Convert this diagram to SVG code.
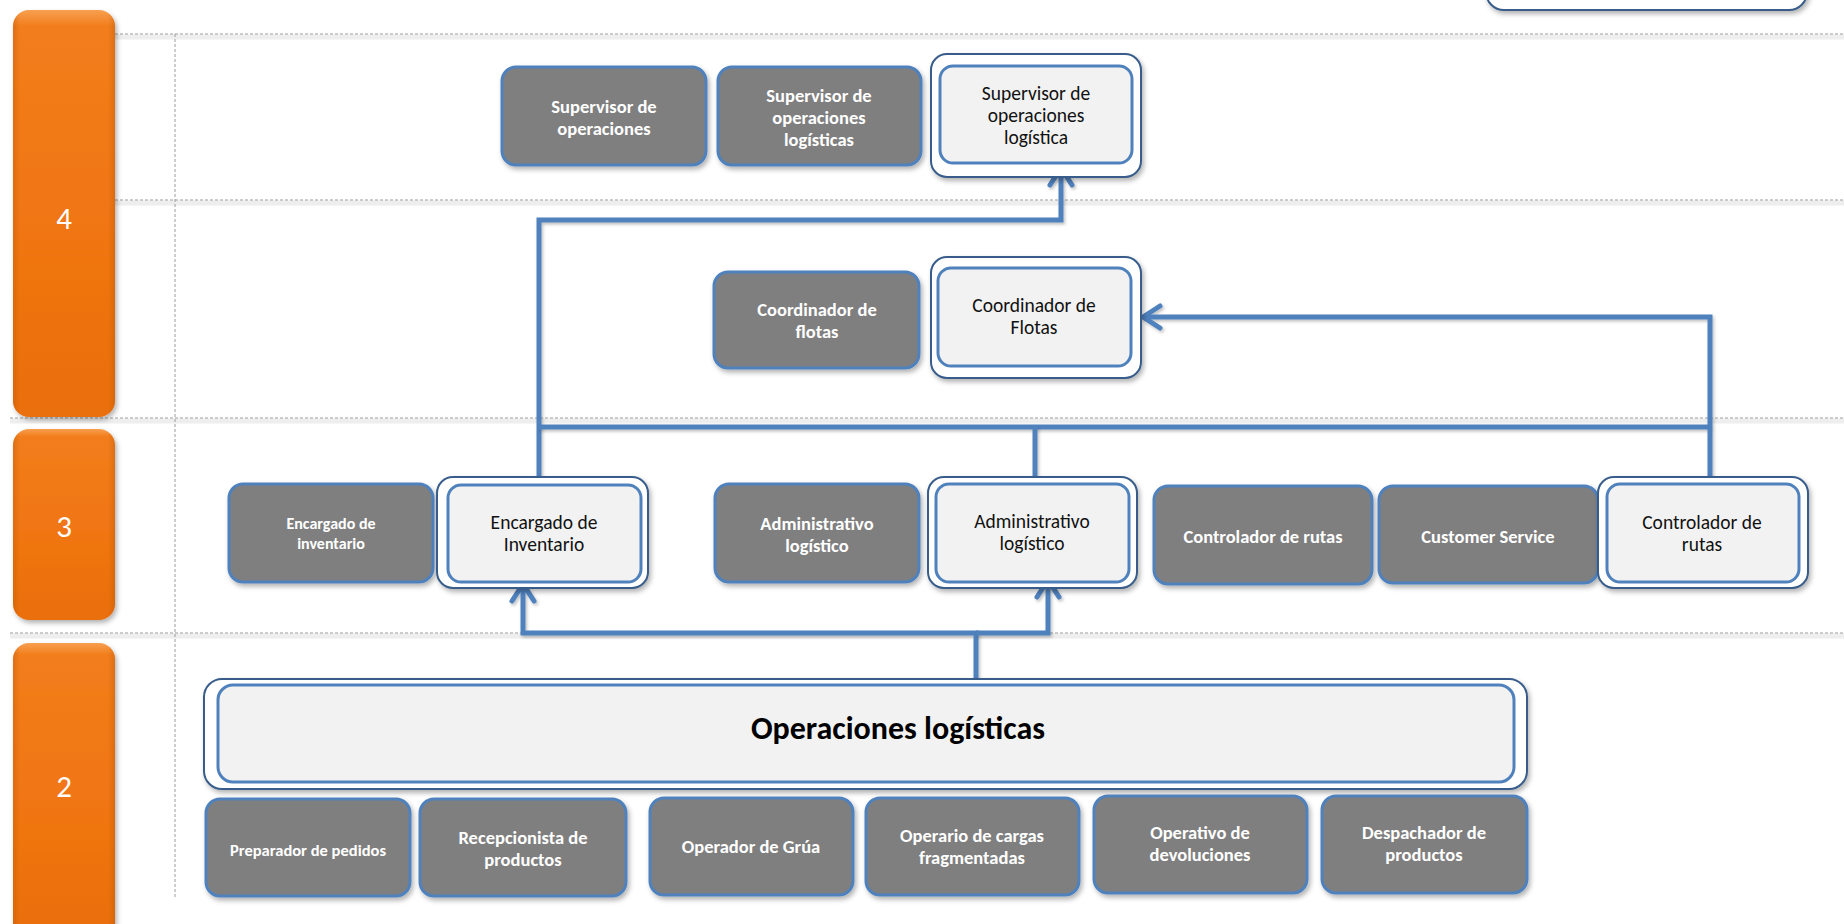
<svg xmlns="http://www.w3.org/2000/svg" width="1844" height="924" viewBox="0 0 1844 924">
  <defs>
    <style>
      .grid { stroke: #9c9c9c; stroke-width: 1; stroke-dasharray: 3 2; fill: none; }
      .gridshade { stroke: #eeeeee; stroke-width: 5; fill: none; }
      .dark { fill: #7f7f7f; stroke: #4f81bd; stroke-width: 3; filter: url(#shadow); }
      .outer { fill: #ffffff; stroke: #385d8a; stroke-width: 2; filter: url(#shadow); }
      .inner { fill: #f2f2f2; stroke: #4f81bd; stroke-width: 3; }
      .lvl { fill: url(#orangeV); filter: url(#shadow); }
      .lvledge { fill: url(#orangeH); }
      .lvltxt { font-family: Carlito, Lato, "Liberation Sans", sans-serif; font-size: 31px; fill: #ffffff; text-anchor: middle; }
      .dt { font-family: Carlito, Lato, "Liberation Sans", sans-serif; font-weight: bold; font-size: 18.5px; fill: #ffffff; text-anchor: middle; }
      .dts { font-size: 16px; }
      .dtm { font-size: 16.5px; }
      .lt { font-family: Carlito, Lato, "Liberation Sans", sans-serif; font-size: 19.5px; fill: #111111; text-anchor: middle; }
      .big { font-family: Carlito, Lato, "Liberation Sans", sans-serif; font-weight: bold; font-size: 32px; fill: #000000; text-anchor: middle; }
      .conn { fill: none; stroke: #4f81bd; stroke-width: 5; stroke-linejoin: miter; filter: url(#lineshadow); }
    </style>
    <filter id="shadow" x="-10%" y="-10%" width="125%" height="130%">
      <feDropShadow dx="2" dy="3" stdDeviation="2.5" flood-color="#000000" flood-opacity="0.3"/>
    </filter>
    <filter id="lineshadow" filterUnits="userSpaceOnUse" x="0" y="0" width="1844" height="924">
      <feDropShadow dx="1.5" dy="2" stdDeviation="1.5" flood-color="#000000" flood-opacity="0.25"/>
    </filter>
    <linearGradient id="orangeV" x1="0" y1="0" x2="0" y2="1">
      <stop offset="0" stop-color="#f7a050"/>
      <stop offset="0.04" stop-color="#f27d1c"/>
      <stop offset="0.5" stop-color="#f17612"/>
      <stop offset="1" stop-color="#ea6f0e"/>
    </linearGradient>
    <linearGradient id="orangeH" x1="0" y1="0" x2="1" y2="0">
      <stop offset="0" stop-color="#b04e00" stop-opacity="0.3"/>
      <stop offset="0.07" stop-color="#b04e00" stop-opacity="0"/>
      <stop offset="0.93" stop-color="#b04e00" stop-opacity="0"/>
      <stop offset="1" stop-color="#b04e00" stop-opacity="0.3"/>
    </linearGradient>
    <marker id="chevron" markerUnits="userSpaceOnUse" markerWidth="40" markerHeight="40" viewBox="-30 -20 40 40" refX="0" refY="0" orient="auto" overflow="visible">
      <path d="M-17,-11 L0,0 L-17,11" fill="none" stroke="#4f81bd" stroke-width="5" stroke-linecap="round" stroke-linejoin="round"/>
    </marker>
  </defs>

  <rect width="1844" height="924" fill="#ffffff"/>

  <!-- level grid -->
  <g id="grid">
    <path class="gridshade" d="M115,37 H1844 M115,203 H1844 M10,421 H1844 M10,636 H1844"/>
    <path class="grid" d="M115,34 H1844 M115,200 H1844 M10,418 H1844 M10,633 H1844"/>
    <path class="grid" d="M175,34 V897"/>
  </g>

  <!-- level bars -->
  <g id="level4">
    <rect class="lvl" x="13" y="10" width="102" height="407" rx="16"/>
    <rect class="lvledge" x="13" y="10" width="102" height="407" rx="16"/>
    <text class="lvltxt" x="64" y="229">4</text>
  </g>
  <g id="level3">
    <rect class="lvl" x="13" y="429" width="102" height="191" rx="16"/>
    <rect class="lvledge" x="13" y="429" width="102" height="191" rx="16"/>
    <text class="lvltxt" x="64" y="537">3</text>
  </g>
  <g id="level2">
    <rect class="lvl" x="13" y="643" width="102" height="300" rx="16"/>
    <rect class="lvledge" x="13" y="643" width="102" height="300" rx="16"/>
    <text class="lvltxt" x="64" y="797">2</text>
  </g>

  <!-- box cut off at the top edge -->
  <g id="top-box">
    <rect class="outer" x="1486" y="-60" width="321" height="70" rx="18"/>
  </g>

  <!-- connectors -->
  <g id="connectors">
    <path class="conn" d="M539,477 V220 H1061 V168" marker-end="url(#chevron)"/>
    <path class="conn" d="M539,427 H1710"/>
    <path class="conn" d="M1035,477 V427"/>
    <path class="conn" d="M1710,477 V317 H1143" marker-end="url(#chevron)"/>
    <path class="conn" d="M976,686 V633 H523 V584" marker-end="url(#chevron)"/>
    <path class="conn" d="M976,633 H1048 V580" marker-end="url(#chevron)"/>
  </g>

  <!-- level 4, upper row -->
  <g id="sup-operaciones">
    <rect class="dark" x="502" y="67" width="204" height="98" rx="14"/>
    <text class="dt" x="604" y="113">Supervisor de</text>
    <text class="dt" x="604" y="135">operaciones</text>
  </g>
  <g id="sup-operaciones-logisticas">
    <rect class="dark" x="718" y="67" width="203" height="98" rx="14"/>
    <text class="dt" x="819" y="102">Supervisor de</text>
    <text class="dt" x="819" y="124">operaciones</text>
    <text class="dt" x="819" y="146">logísticas</text>
  </g>
  <g id="sup-operaciones-logistica">
    <rect class="outer" x="931" y="54" width="210" height="123" rx="16"/>
    <rect class="inner" x="940" y="66" width="192" height="97" rx="13"/>
    <text class="lt" x="1036" y="100">Supervisor de</text>
    <text class="lt" x="1036" y="122">operaciones</text>
    <text class="lt" x="1036" y="144">logística</text>
  </g>

  <!-- level 4, lower row -->
  <g id="coord-flotas-a">
    <rect class="dark" x="714" y="272" width="205" height="96" rx="14"/>
    <text class="dt" x="817" y="316">Coordinador de</text>
    <text class="dt" x="817" y="338">flotas</text>
  </g>
  <g id="coord-flotas-b">
    <rect class="outer" x="931" y="257" width="210" height="121" rx="16"/>
    <rect class="inner" x="938" y="268" width="193" height="98" rx="13"/>
    <text class="lt" x="1034" y="312">Coordinador de</text>
    <text class="lt" x="1034" y="334">Flotas</text>
  </g>

  <!-- level 3 -->
  <g id="encargado-inventario-a">
    <rect class="dark" x="229" y="484" width="204" height="98" rx="14"/>
    <text class="dt dts" x="331" y="529">Encargado de</text>
    <text class="dt dts" x="331" y="549">inventario</text>
  </g>
  <g id="encargado-inventario-b">
    <rect class="outer" x="437" y="477" width="211" height="111" rx="16"/>
    <rect class="inner" x="448" y="485" width="193" height="97" rx="13"/>
    <text class="lt" x="544" y="529">Encargado de</text>
    <text class="lt" x="544" y="551">Inventario</text>
  </g>
  <g id="administrativo-a">
    <rect class="dark" x="715" y="484" width="204" height="98" rx="14"/>
    <text class="dt" x="817" y="530">Administrativo</text>
    <text class="dt" x="817" y="552">logístico</text>
  </g>
  <g id="administrativo-b">
    <rect class="outer" x="928" y="477" width="209" height="111" rx="16"/>
    <rect class="inner" x="936" y="484" width="193" height="98" rx="13"/>
    <text class="lt" x="1032" y="528">Administrativo</text>
    <text class="lt" x="1032" y="550">logístico</text>
  </g>
  <g id="controlador-rutas-a">
    <rect class="dark" x="1154" y="486" width="218" height="98" rx="14"/>
    <text class="dt" x="1263" y="543">Controlador de rutas</text>
  </g>
  <g id="customer-service">
    <rect class="dark" x="1379" y="486" width="219" height="97" rx="14"/>
    <text class="dt" x="1488" y="543">Customer Service</text>
  </g>
  <g id="controlador-rutas-b">
    <rect class="outer" x="1598" y="477" width="210" height="111" rx="16"/>
    <rect class="inner" x="1607" y="484" width="192" height="98" rx="13"/>
    <text class="lt" x="1702" y="529">Controlador de</text>
    <text class="lt" x="1702" y="551">rutas</text>
  </g>

  <!-- level 2 -->
  <g id="operaciones-logisticas">
    <rect class="outer" x="204" y="679" width="1323" height="110" rx="18"/>
    <rect class="inner" x="218" y="685" width="1296" height="97" rx="15"/>
    <text class="big" x="898" y="739">Operaciones logísticas</text>
  </g>
  <g id="preparador">
    <rect class="dark" x="206" y="799" width="204" height="97" rx="14"/>
    <text class="dt dtm" x="308" y="856">Preparador de pedidos</text>
  </g>
  <g id="recepcionista">
    <rect class="dark" x="420" y="799" width="206" height="97" rx="14"/>
    <text class="dt" x="523" y="844">Recepcionista de</text>
    <text class="dt" x="523" y="866">productos</text>
  </g>
  <g id="operador-grua">
    <rect class="dark" x="650" y="798" width="203" height="97" rx="14"/>
    <text class="dt" x="751" y="853">Operador de Grúa</text>
  </g>
  <g id="operario-cargas">
    <rect class="dark" x="866" y="798" width="213" height="97" rx="14"/>
    <text class="dt" x="972" y="842">Operario de cargas</text>
    <text class="dt" x="972" y="864">fragmentadas</text>
  </g>
  <g id="operativo-devoluciones">
    <rect class="dark" x="1094" y="796" width="213" height="97" rx="14"/>
    <text class="dt" x="1200" y="839">Operativo de</text>
    <text class="dt" x="1200" y="861">devoluciones</text>
  </g>
  <g id="despachador">
    <rect class="dark" x="1322" y="796" width="205" height="97" rx="14"/>
    <text class="dt" x="1424" y="839">Despachador de</text>
    <text class="dt" x="1424" y="861">productos</text>
  </g>
</svg>
